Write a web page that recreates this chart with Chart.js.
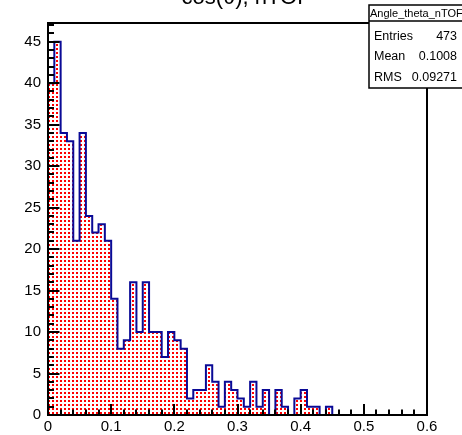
<!DOCTYPE html>
<html lang="en">
<head>
<meta charset="UTF-8">
<title>Angle_theta_nTOF</title>
<script src="https://cdn.jsdelivr.net/npm/chart.js"></script>
<style>
  body { margin: 0; background: #fff; }
  canvas { display: block; }
</style>
</head>
<body>
<canvas id="histo" width="462" height="435"></canvas>
<script>
// histogram: 60 bins of 0.01 from 0 to 0.6
var histName = 'Angle_theta_nTOF';
var histTitle = 'cos(θ), nTOF';
var binWidth = 0.01;
var counts = [
  40, 45, 34, 33, 21, 34, 24, 22, 23, 21,
  14,  8,  9, 16, 10, 16, 10, 10,  7, 10,
   9,  8,  2,  3,  3,  6,  4,  1,  4,  3,
   2,  1,  4,  1,  3,  0,  3,  1,  0,  2,
   3,  1,  1,  0,  1,  0,  0,  0,  0,  0,
   0,  0,  0,  0,  0,  0,  0,  0,  0,  0
];
var xTickValues = [0, 0.1, 0.2, 0.3, 0.4, 0.5, 0.6];
var xTickLabels = ['0', '0.1', '0.2', '0.3', '0.4', '0.5', '0.6'];
var yTickValues = [0, 5, 10, 15, 20, 25, 30, 35, 40, 45];
var yTickLabels = ['0', '5', '10', '15', '20', '25', '30', '35', '40', '45'];
var statLabels = ['Entries', 'Mean', 'RMS'];
var statValues = ['473', '0.1008', '0.09271'];

var FONT = '"Liberation Sans", Arial, sans-serif';

// step points: left edge of every bin, closed back to zero at the end
var points = [{x: 0, y: 0}];
counts.forEach(function(c, i) {
  points.push({x: i * binWidth, y: c});
});
points.push({x: counts.length * binWidth, y: 0});

// red dotted fill like ROOT fill style
var tile = document.createElement('canvas');
tile.width = 4; tile.height = 4;
var tctx = tile.getContext('2d');
tctx.fillStyle = '#ff0000';
tctx.fillRect(0, 0, 2, 2);
var ctx = document.getElementById('histo').getContext('2d');
var dots = ctx.createPattern(tile, 'repeat');

var rootFrame = {
  id: 'rootFrame',
  afterDatasetsDraw: function(chart) {
    var c = chart.ctx, a = chart.chartArea;
    var xs = chart.scales.x, ys = chart.scales.y;
    c.save();
    c.strokeStyle = '#000';
    c.lineWidth = 2;
    c.beginPath();
    for (var k = 0; k <= 30; k++) {
      var px = Math.round(xs.getPixelForValue(k * 0.02));
      var len = (k % 5 === 0) ? 11 : 5.5;
      c.moveTo(px, a.bottom);
      c.lineTo(px, a.bottom - len);
    }
    for (var j = 0; j <= 47; j++) {
      var py = Math.round(ys.getPixelForValue(j));
      var len2 = (j % 5 === 0) ? 11.5 : 6;
      c.moveTo(a.left, py);
      c.lineTo(a.left + len2, py);
    }
    c.stroke();
    c.strokeRect(a.left, a.top, a.right - a.left, a.bottom - a.top);
    c.restore();
  },
  afterDraw: function(chart) {
    var c = chart.ctx;
    c.save();
    // title, mostly cut off by the top edge
    c.fillStyle = '#000';
    c.font = '22px ' + FONT;
    c.textAlign = 'center';
    c.textBaseline = 'alphabetic';
    c.fillText(histTitle, 246, 4);

    // stats box, running off the right edge
    c.fillStyle = '#fff';
    c.fillRect(369, 5, 100, 83);
    c.strokeStyle = '#000';
    c.lineWidth = 1.5;
    c.strokeRect(369, 5, 100, 83);
    c.beginPath();
    c.moveTo(369, 21);
    c.lineTo(462, 21);
    c.stroke();

    c.fillStyle = '#000';
    c.font = '11px ' + FONT;
    c.textAlign = 'left';
    c.textBaseline = 'middle';
    c.fillText(histName, 370, 13.5);

    c.font = '12.5px ' + FONT;
    for (var i = 0; i < statLabels.length; i++) {
      var y = 36.5 + i * 20.5;
      c.textAlign = 'left';
      c.fillText(statLabels[i], 374, y);
      c.textAlign = 'right';
      c.fillText(statValues[i], 457, y);
    }
    c.restore();
  }
};

new Chart(ctx, {
  type: 'line',
  data: {
    datasets: [{
      label: histName,
      data: points,
      stepped: true,
      fill: 'origin',
      backgroundColor: dots,
      borderColor: '#0a0a96',
      borderWidth: 2,
      pointRadius: 0
    }]
  },
  options: {
    responsive: false,
    animation: false,
    layout: { padding: { top: 23, right: 35, left: 0, bottom: 0 } },
    plugins: {
      legend: { display: false },
      tooltip: { enabled: false }
    },
    scales: {
      x: {
        type: 'linear',
        min: 0,
        max: 0.6,
        grid: { display: false, drawTicks: false },
        border: { display: false },
        afterBuildTicks: function(s) {
          s.ticks = xTickValues.map(function(v) { return {value: v}; });
        },
        afterFit: function(s) { s.height = 20; },
        ticks: {
          autoSkip: false,
          maxRotation: 0,
          padding: 3,
          color: '#000',
          font: { family: FONT, size: 15 },
          callback: function(v, i) { return xTickLabels[i]; }
        }
      },
      y: {
        type: 'linear',
        min: 0,
        max: 47.25,
        grid: { display: false, drawTicks: false },
        border: { display: false },
        afterBuildTicks: function(s) {
          s.ticks = yTickValues.map(function(v) { return {value: v}; });
        },
        afterFit: function(s) { s.width = 48; },
        ticks: {
          autoSkip: false,
          padding: 7,
          color: '#000',
          font: { family: FONT, size: 15 },
          callback: function(v, i) { return yTickLabels[i]; }
        }
      }
    }
  },
  plugins: [rootFrame]
});
</script>
</body>
</html>
